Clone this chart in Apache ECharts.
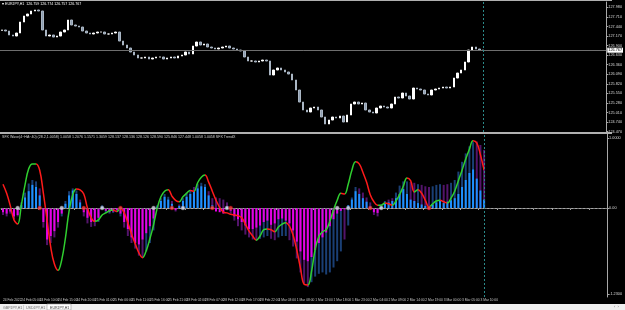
<!DOCTYPE html>
<html>
<head>
<meta charset="utf-8">
<script src="https://cdn.jsdelivr.net/npm/echarts@6/dist/echarts.min.js"></script>
<style>
  html, body { margin: 0; padding: 0; background: #000; }
  #chart { width: 625px; height: 310px; }
</style>
</head>
<body>
<div id="chart"></div>
<script>
// EURJPY H1 closes (open of each bar = previous close)
const closes = [
  127.340, 127.311, 127.199, 127.170, 127.255, 127.565, 127.735, 127.791, 127.876, 127.904,
  127.876, 127.340, 127.170, 127.199, 127.142, 127.170, 127.283, 127.340, 127.622, 127.481,
  127.452, 127.424, 127.311, 127.255, 127.227, 127.255, 127.283, 127.283, 127.227, 127.227,
  127.255, 127.283, 127.029, 126.916, 126.832, 126.719, 126.634, 126.550, 126.550, 126.578,
  126.521, 126.550, 126.578, 126.578, 126.521, 126.550, 126.578, 126.550, 126.606, 126.634,
  126.719, 126.663, 126.888, 127.001, 126.916, 126.945, 126.860, 126.832, 126.804, 126.832,
  126.860, 126.888, 126.832, 126.804, 126.775, 126.747, 126.578, 126.465, 126.465, 126.437,
  126.465, 126.493, 126.465, 126.070, 126.211, 126.268, 126.211, 126.155, 126.098, 125.929,
  125.647, 125.308, 125.083, 125.026, 125.139, 125.167, 125.083, 124.885, 124.688, 124.800,
  124.885, 124.857, 124.913, 124.744, 124.941, 125.252, 125.308, 125.252, 125.280, 125.083,
  125.026, 124.998, 125.139, 125.195, 125.167, 125.139, 125.252, 125.449, 125.421, 125.562,
  125.477, 125.393, 125.703, 125.675, 125.647, 125.534, 125.506, 125.647, 125.675, 125.703,
  125.731, 125.703, 125.731, 125.985, 126.126, 126.211, 126.437, 126.775, 126.860, 126.804,
  126.775, 126.767
];
const firstOpen = 127.330;

// oscillator line (green while rising, red while falling)
const oscillator = [
  0.34, 0.21, 0.03, -0.17, -0.23, 0.04, 0.33, 0.56, 0.63, 0.63,
  0.54, 0.21, -0.17, -0.56, -0.80, -0.89, -0.74, -0.43, -0.04, 0.19,
  0.27, 0.26, 0.20, 0.00, -0.14, -0.19, -0.17, -0.10, -0.07, -0.04,
  -0.03, -0.05, 0.00, -0.07, -0.21, -0.37, -0.51, -0.64, -0.71, -0.61,
  -0.44, -0.24, 0.00, 0.16, 0.24, 0.26, 0.17, 0.11, 0.09, 0.16,
  0.21, 0.25, 0.24, 0.36, 0.44, 0.47, 0.37, 0.24, 0.11, 0.01,
  -0.06, -0.07, -0.09, -0.10, -0.11, -0.14, -0.23, -0.33, -0.40, -0.46,
  -0.40, -0.31, -0.30, -0.31, -0.34, -0.27, -0.23, -0.21, -0.26, -0.39,
  -0.60, -0.86, -1.09, -1.10, -0.91, -0.59, -0.41, -0.34, -0.31, -0.19,
  -0.03, 0.11, 0.21, 0.20, 0.34, 0.54, 0.66, 0.63, 0.51, 0.37,
  0.19, 0.09, 0.04, 0.04, 0.07, 0.06, 0.04, 0.10, 0.19, 0.31,
  0.43, 0.39, 0.23, 0.26, 0.21, 0.11, 0.01, 0.06, 0.10, 0.11,
  0.09, 0.07, 0.14, 0.24, 0.39, 0.54, 0.70, 0.84, 0.96, 0.93,
  0.76, 0.54
];

// bright histogram (blue above zero, magenta below)
const fastHist = [
  -0.06, -0.08, -0.05, -0.12, -0.10, 0.04, 0.15, 0.24, 0.33, 0.30,
  0.18, -0.20, -0.45, -0.40, -0.33, -0.20, -0.08, 0.06, 0.18, 0.25,
  0.20, 0.08, -0.06, -0.14, -0.20, -0.19, -0.14, 0.02, -0.04, -0.06,
  -0.05, -0.03, -0.08, -0.20, -0.30, -0.42, -0.50, -0.52, -0.45, -0.36,
  -0.26, -0.15, 0.02, 0.10, 0.16, 0.12, 0.06, -0.03, 0.03, 0.10,
  0.16, 0.20, 0.24, 0.28, 0.31, 0.30, 0.18, 0.04, -0.05, -0.06,
  -0.08, 0.02, -0.04, -0.12, -0.16, -0.20, -0.25, -0.30, -0.30, -0.28,
  -0.25, -0.20, -0.18, -0.24, -0.22, -0.16, -0.15, -0.18, -0.22, -0.32,
  -0.48, -0.62, -0.74, -0.76, -0.70, -0.60, -0.50, -0.42, -0.35, -0.26,
  -0.16, -0.08, -0.04, -0.02, 0.04, 0.12, 0.24, 0.20, 0.14, 0.09,
  0.03, -0.06, -0.07, 0.02, 0.06, 0.08, 0.10, 0.14, 0.20, 0.27,
  0.20, 0.12, 0.10, 0.07, 0.05, 0.03, -0.02, 0.05, 0.08, 0.10,
  0.07, 0.09, 0.11, 0.14, 0.20, 0.30, 0.40, 0.50, 0.55, 0.42,
  0.25, 0.12
];

// dark histogram behind (navy / dark purple)
const slowHist = [
  -0.10, -0.12, -0.08, -0.16, -0.12, 0.08, 0.22, 0.35, 0.40, 0.38,
  0.28, -0.28, -0.53, -0.50, -0.42, -0.28, -0.12, 0.10, 0.24, 0.28,
  0.25, 0.12, -0.12, -0.22, -0.27, -0.26, -0.20, 0.04, -0.07, -0.08,
  -0.07, -0.06, -0.12, -0.28, -0.40, -0.50, -0.58, -0.68, -0.70, -0.62,
  -0.50, -0.32, 0.04, 0.14, 0.20, 0.16, 0.10, -0.05, 0.05, 0.14,
  0.22, 0.26, 0.30, 0.34, 0.36, 0.34, 0.24, 0.14, 0.15, 0.14,
  0.12, 0.08, -0.08, -0.18, -0.26, -0.32, -0.38, -0.42, -0.45, -0.46,
  -0.44, -0.42, -0.40, -0.44, -0.46, -0.42, -0.40, -0.40, -0.46, -0.55,
  -0.72, -0.92, -1.08, -1.13, -1.06, -0.98, -0.94, -0.92, -0.95, -0.92,
  -0.85, -0.76, -0.62, -0.45, -0.25, 0.15, 0.30, 0.28, 0.22, 0.15,
  0.08, -0.10, -0.12, 0.05, 0.10, 0.12, 0.14, 0.22, 0.32, 0.38,
  0.38, 0.37, 0.36, 0.34, 0.33, 0.31, 0.30, 0.31, 0.33, 0.34,
  0.33, 0.34, 0.36, 0.40, 0.52, 0.66, 0.78, 0.88, 0.94, 0.95,
  0.90, 0.83
];

// bars with a marker on the zero line
const crossUp = [4, 16, 27, 41, 49, 61, 91, 94, 103];
const crossDown = [10, 22, 32, 46, 57, 62, 100, 116];

const priceTicks = [124.470, 124.740, 125.010, 125.280, 125.550, 125.820, 126.090,
  126.360, 126.630, 126.900, 127.170, 127.440, 127.710, 127.980];
const oscTicks = [1.0, 0, -1.23];

const timeLabels = ['24 Feb 2022', '24 Feb 05:00', '24 Feb 10:00', '24 Feb 15:00', '24 Feb 20:00',
  '25 Feb 01:00', '25 Feb 06:00', '25 Feb 11:00', '25 Feb 16:00', '25 Feb 21:00',
  '28 Feb 02:00', '28 Feb 07:00', '28 Feb 12:00', '28 Feb 17:00', '28 Feb 22:00',
  '1 Mar 03:00', '1 Mar 08:00', '1 Mar 13:00', '1 Mar 18:00', '1 Mar 23:00',
  '2 Mar 04:00', '2 Mar 09:00', '2 Mar 14:00', '2 Mar 19:00', '3 Mar 00:00',
  '3 Mar 05:00', '3 Mar 10:00'];

const TOTAL_SLOTS = 165; // chart keeps empty space right of the last bar
const cats = Array.from({ length: TOTAL_SLOTS }, (_, i) => String(i));
const lastIdx = closes.length - 1;
const lastPrice = closes[lastIdx];

// candlestick rows: [open, close, low, high]
const candles = closes.map((c, i) => {
  const o = i === 0 ? firstOpen : closes[i - 1];
  return [o, c, Math.min(o, c), Math.max(o, c)];
});

const isRising = i => (i === 0 ? oscillator[1] >= oscillator[0] : oscillator[i] >= oscillator[i - 1]);

// colour pieces along x for the oscillator line
const pieces = [{ lte: 0, color: isRising(0) ? '#2fcf2f' : '#ff1a1a' }];
for (let i = 1; i < oscillator.length; i++) {
  pieces.push({ gt: i - 1, lte: i, color: isRising(i) ? '#2fcf2f' : '#ff1a1a' });
}

const font = '"Liberation Sans Narrow", "Liberation Sans", sans-serif';
const chart = echarts.init(document.getElementById('chart'));

const option = {
  backgroundColor: '#000000',
  animation: false,
  textStyle: { fontFamily: font },
  grid: [
    { left: 0, right: 13, top: 2, height: 130 },
    { left: 0, right: 13, top: 134, height: 163 }
  ],
  xAxis: [
    {
      type: 'category', gridIndex: 0, data: cats, boundaryGap: true,
      axisLine: { show: false }, axisTick: { show: false }, axisLabel: { show: false },
      splitLine: { show: false }
    },
    {
      type: 'category', gridIndex: 1, data: cats, boundaryGap: true,
      axisLine: { show: true, lineStyle: { color: '#a8a8a8', width: 1 } },
      axisTick: { show: true, interval: 4, length: 2, lineStyle: { color: '#a8a8a8' } },
      axisLabel: {
        interval: 4, margin: 2, fontSize: 3.3, color: '#c8c8c8', align: 'left', showMinLabel: true,
        formatter: (v, idx) => (idx % 5 === 0 && timeLabels[idx / 5]) ? timeLabels[idx / 5] : ''
      },
      splitLine: { show: false }
    }
  ],
  yAxis: [
    {
      type: 'value', gridIndex: 0, position: 'right', min: 124.462, max: 128.130,
      axisLine: { show: true, lineStyle: { color: '#a8a8a8' } },
      axisTick: { show: true, length: 2, customValues: priceTicks, lineStyle: { color: '#a8a8a8' } },
      axisLabel: { customValues: priceTicks, formatter: v => v.toFixed(3), fontSize: 3.8, color: '#d8d8d8', margin: 2 },
      splitLine: { show: false }
    },
    {
      type: 'value', gridIndex: 1, position: 'right', min: -1.2714, max: 1.0571,
      axisLine: { show: true, lineStyle: { color: '#a8a8a8' } },
      axisTick: { show: true, length: 2, customValues: oscTicks, lineStyle: { color: '#a8a8a8' } },
      axisLabel: {
        customValues: oscTicks, fontSize: 3.8, color: '#d8d8d8', margin: 2,
        formatter: v => (v === 0 ? '0.00' : v.toFixed(4))
      },
      splitLine: { show: false }
    }
  ],
  visualMap: {
    type: 'piecewise', show: false, dimension: 0, seriesIndex: 3, pieces: pieces
  },
  series: [
    {
      type: 'candlestick', xAxisIndex: 0, yAxisIndex: 0, data: candles, barWidth: 2,
      itemStyle: { color: '#ffffff', color0: '#8d9db0', borderColor: '#ffffff', borderColor0: '#aab6c4', borderWidth: 1 },
      markLine: {
        silent: true, symbol: 'none', animation: false,
        data: [
          {
            yAxis: lastPrice,
            lineStyle: { color: '#6e6e6e', width: 1, type: 'solid' },
            label: {
              show: true, position: 'end', formatter: lastPrice.toFixed(3), distance: 1,
              backgroundColor: '#ffffff', color: '#000000', fontSize: 3.8, padding: [0.5, 1]
            }
          },
          { xAxis: cats[lastIdx], lineStyle: { color: '#2b8a8a', width: 1, type: [2, 2] }, label: { show: false } }
        ]
      }
    },
    {
      type: 'bar', xAxisIndex: 1, yAxisIndex: 1, data: slowHist, barWidth: 2,
      itemStyle: { color: p => (isRising(p.dataIndex) ? '#1a3f75' : '#53146b') },
      markLine: {
        silent: true, symbol: 'none', animation: false,
        data: [
          { yAxis: 0, lineStyle: { color: '#7a7a7a', width: 1, type: [2, 2] }, label: { show: false } },
          { xAxis: cats[lastIdx], lineStyle: { color: '#2b8a8a', width: 1, type: [2, 2] }, label: { show: false } }
        ]
      }
    },
    {
      type: 'bar', xAxisIndex: 1, yAxisIndex: 1, data: fastHist, barWidth: 2, barGap: '-100%',
      itemStyle: { color: p => (p.value >= 0 ? '#1e90ff' : '#e600e6') }
    },
    {
      type: 'line', xAxisIndex: 1, yAxisIndex: 1, data: oscillator, smooth: 0.4,
      showSymbol: false, lineStyle: { width: 1.5 }, z: 4
    },
    {
      type: 'scatter', xAxisIndex: 1, yAxisIndex: 1, symbolSize: 4, z: 5,
      data: crossUp.map(i => [i, 0]),
      itemStyle: { color: '#dcdcec', borderColor: '#808080', borderWidth: 0.5 }
    },
    {
      type: 'scatter', xAxisIndex: 1, yAxisIndex: 1, symbolSize: 4, z: 5,
      data: crossDown.map(i => [i, 0]),
      itemStyle: { color: '#ff4040', borderColor: '#a00000', borderWidth: 0.5 }
    }
  ],
  graphic: [
    { type: 'line', shape: { x1: 0, y1: 0.5, x2: 612, y2: 0.5 }, style: { stroke: '#b0b0b0', lineWidth: 1 }, z: 10 },
    { type: 'line', shape: { x1: 0, y1: 132.5, x2: 612, y2: 132.5 }, style: { stroke: '#b0b0b0', lineWidth: 1 }, z: 10 },
    { type: 'line', shape: { x1: 0, y1: 133.5, x2: 612, y2: 133.5 }, style: { stroke: '#b0b0b0', lineWidth: 1 }, z: 10 },
    {
      type: 'text', left: 2, top: 2, z: 10,
      style: { text: '\u25BE EURJPY,H1  126.759 126.774 126.757 126.767', fill: '#ffffff', fontSize: 3.6, fontFamily: font }
    },
    {
      type: 'text', left: 2, top: 135, z: 10,
      style: {
        text: 'SFX Wave(4~HA~40) (28.2,1.0058) 1.0058 1.2076 1.1571 1.3059 128.137 128.136 128.126 128.590 125.846 127.448 1.0058 1.0058 SFX TrendX',
        fill: '#d0d0d0', fontSize: 3.6, fontFamily: font
      }
    },
    { type: 'rect', shape: { x: 0, y: 304, width: 625, height: 6 }, style: { fill: '#f0f0f0' }, z: 10 },
    { type: 'rect', shape: { x: 47, y: 304, width: 24, height: 6 }, style: { fill: '#ffffff', stroke: '#9a9a9a', lineWidth: 0.6 }, z: 11 },
    { type: 'line', shape: { x1: 23.5, y1: 305, x2: 23.5, y2: 310 }, style: { stroke: '#b8b8b8', lineWidth: 0.6 }, z: 11 },
    { type: 'text', left: 3, top: 305.5, z: 12, style: { text: 'GBPJPY,H1', fill: '#6a6a6a', fontSize: 3.6, fontFamily: font } },
    { type: 'text', left: 26, top: 305.5, z: 12, style: { text: 'USDJPY,H1', fill: '#6a6a6a', fontSize: 3.6, fontFamily: font } },
    { type: 'text', left: 50, top: 305.5, z: 12, style: { text: 'EURJPY,H1', fill: '#333333', fontSize: 3.6, fontFamily: font } },
    { type: 'text', left: 614, top: 305, z: 12, style: { text: '\u2039  \u203A', fill: '#777777', fontSize: 4, fontFamily: font } }
  ]
};

chart.setOption(option);
</script>
</body>
</html>
